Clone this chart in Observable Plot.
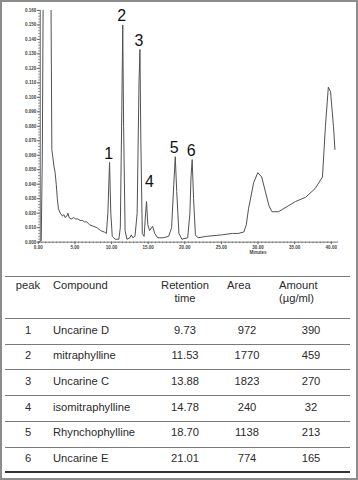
<!DOCTYPE html>
<html><head><meta charset="utf-8">
<script src="https://cdn.jsdelivr.net/npm/d3@7"></script>
<script src="https://cdn.jsdelivr.net/npm/@observablehq/plot@0.6"></script>
<style>
html,body{margin:0;padding:0;background:#fff;}
#wrap{position:relative;width:358px;height:480px;box-sizing:border-box;border:2px solid #8c8c8c;overflow:hidden;font-family:"Liberation Sans",Arial,sans-serif;}
#chart{position:absolute;left:-2px;top:-2px;}
.cell{position:absolute;font-size:11.2px;color:#2b2b2b;white-space:nowrap;line-height:1;}
.hl{position:absolute;height:1px;background:#7a7a7a;}
</style></head><body><div id="wrap"><div id="chart"></div><div id="table"></div></div>
<script>
// ---- chromatogram trace (minutes, absorbance) ----
const times = [0.00,0.40,0.55,0.70,1.70,1.85,2.00,2.15,2.30,2.45,2.60,2.75,3.00,3.30,3.50,3.65,3.90,4.05,4.20,4.50,4.80,5.10,5.40,5.70,6.00,6.30,6.60,7.00,7.50,8.00,8.50,9.00,9.30,9.50,9.73,9.90,10.10,10.50,11.00,11.20,11.40,11.53,11.65,11.85,12.10,12.50,12.70,12.90,13.20,13.50,13.75,13.88,14.00,14.20,14.45,14.65,14.78,14.95,15.20,15.60,15.90,16.30,17.00,17.80,18.20,18.50,18.70,18.90,19.20,19.60,20.40,20.70,20.85,21.01,21.20,21.45,21.80,23.00,25.00,26.50,27.30,28.07,28.40,28.70,29.40,29.97,30.50,31.05,31.50,31.90,32.80,35.10,36.50,37.80,38.80,39.20,39.60,39.90,40.30,40.50];
const absorbance = [0.000,0.001,0.060,0.200,0.200,0.064,0.058,0.052,0.048,0.040,0.030,0.023,0.020,0.018,0.019,0.017,0.018,0.020,0.017,0.016,0.017,0.016,0.016,0.015,0.015,0.014,0.014,0.012,0.011,0.010,0.008,0.007,0.006,0.020,0.055,0.020,0.004,0.002,0.002,0.010,0.090,0.150,0.080,0.008,0.002,0.003,0.005,0.003,0.004,0.020,0.110,0.133,0.070,0.006,0.004,0.020,0.028,0.012,0.008,0.011,0.006,0.003,0.003,0.004,0.010,0.040,0.059,0.035,0.006,0.002,0.003,0.020,0.045,0.057,0.030,0.005,0.003,0.004,0.005,0.006,0.006,0.007,0.012,0.023,0.041,0.048,0.045,0.034,0.025,0.021,0.021,0.028,0.031,0.037,0.045,0.080,0.107,0.104,0.080,0.064];

// ---- labelled peaks ----
const peakIds = ["1","2","3","4","5","6"];
const peakTimes = [9.73, 11.53, 13.88, 14.78, 18.70, 21.01];
const peakHeights = [0.055, 0.150, 0.133, 0.028, 0.059, 0.057];

// ---- axis ticks ----
const yTicks = [0,0.01,0.02,0.03,0.04,0.05,0.06,0.07,0.08,0.09,0.10,0.11,0.12,0.13,0.14,0.15,0.16];
const xTicks = [0,5,10,15,20,25,30,35,40];
const xTitle = "Minutes";

// ---- table ----
const headPeak = "peak";
const headCompound = "Compound";
const headRetention = ["Retention","time"];
const headArea = "Area";
const headAmount = ["Amount","(\u00b5g/ml)"];
const peakNumbers = ["1","2","3","4","5","6"];
const compounds = ["Uncarine D","mitraphylline","Uncarine C","isomitraphylline","Rhynchophylline","Uncarine E"];
const retentionTimes = ["9.73","11.53","13.88","14.78","18.70","21.01"];
const areas = ["972","1770","1823","240","1138","774"];
const amounts = ["390","459","270","32","213","165"];

const trace = times.map((t, i) => ({t, a: absorbance[i]}));
const peaks = peakIds.map((id, i) => ({id, t: peakTimes[i], h: peakHeights[i]}));
const minorY = d3.range(0, 0.1601, 0.002);
const minorX = d3.range(0, 40.01, 0.5);

const axisFont = {fontSize: 4.6, fontWeight: "bold", fill: "#444"};
const labelFont = {fontSize: 16, fill: "#111"};
const plot = Plot.plot({
  width: 358, height: 262,
  marginLeft: 38, marginRight: 18, marginTop: 10, marginBottom: 19,
  x: {domain: [0, 41]},
  y: {domain: [0, 0.16]},
  style: {fontFamily: "'Liberation Sans', Arial, sans-serif", background: "transparent"},
  marks: [
    Plot.line(trace, {x: "t", y: "a", stroke: "#505050", strokeWidth: 1, clip: true}),
    Plot.ruleX([0], {dx: 2, stroke: "#666", strokeWidth: 1}),
    Plot.ruleY([0], {stroke: "#777", strokeWidth: 1}),
    Plot.axisY({ticks: minorY, tickSize: 1.5, text: null, label: null, dx: 2, stroke: "#777"}),
    Plot.axisY({ticks: yTicks, tickSize: 3, tickPadding: 1, tickFormat: d3.format(".3f"), label: null, dx: 2, stroke: "#666", ...axisFont}),
    Plot.axisX({ticks: minorX, tickSize: 1.5, text: null, label: null, stroke: "#777"}),
    Plot.axisX({ticks: xTicks, tickSize: 2.5, tickPadding: 1, tickFormat: d3.format(".2f"), label: null, stroke: "#666", ...axisFont}),
    Plot.text([xTitle], {x: () => xTicks[6], y: () => 0, dy: 10, text: d => d, ...axisFont}),
    Plot.text(peaks, {filter: d => d.h >= 0.04, x: "t", y: "h", text: "id", dy: -9, dx: -1, ...labelFont}),
    Plot.text(peaks, {filter: d => d.h < 0.04, x: "t", y: "h", text: "id", dy: -20, dx: 3, ...labelFont})
  ]
});
document.getElementById("chart").appendChild(plot);

// ---- table layout ----
const tbl = document.getElementById("table");
const off = 2; // border
function cell(txt, x, cy, align) {
  const d = document.createElement("div");
  d.className = "cell";
  d.textContent = txt;
  d.style.top = (cy - off - 6) + "px";
  d.style.left = (x - off) + "px";
  if (align === "center") d.style.transform = "translateX(-50%)";
  tbl.appendChild(d);
}
function hline(y, h, color) {
  const d = document.createElement("div");
  d.className = "hl";
  d.style.left = (5 - off) + "px";
  d.style.width = "345px";
  d.style.top = (y - off) + "px";
  d.style.height = h + "px";
  d.style.background = color;
  tbl.appendChild(d);
}
const colPeak = 28, colComp = 53, colRet = 185, colArea = 227, colAreaVal = 247, colAmt = 279, colAmtVal = 311;
const topLine = 276, headLine = 318, rowH = 25.7;
hline(topLine, 1, "#7a7a7a");
cell(headPeak, colPeak, 286, "center");
cell(headCompound, colComp, 286, "left");
cell(headRetention[0], colRet, 286, "center");
cell(headRetention[1], colRet, 299, "center");
cell(headArea, colArea, 286, "left");
cell(headAmount[0], colAmt, 286, "left");
cell(headAmount[1], colAmt, 299, "left");
hline(headLine, 1, "#7a7a7a");
peakNumbers.forEach((p, i) => {
  const cy = headLine + rowH * i + 12.5;
  cell(p, colPeak, cy, "center");
  cell(compounds[i], colComp, cy, "left");
  cell(retentionTimes[i], colRet, cy, "center");
  cell(areas[i], colAreaVal, cy, "center");
  cell(amounts[i], colAmtVal, cy, "center");
  const ly = headLine + rowH * (i + 1);
  if (i < peakNumbers.length - 1) hline(Math.round(ly), 1, "#7a7a7a");
  else hline(Math.round(ly) - 1, 2, "#333");
});
</script></body></html>
